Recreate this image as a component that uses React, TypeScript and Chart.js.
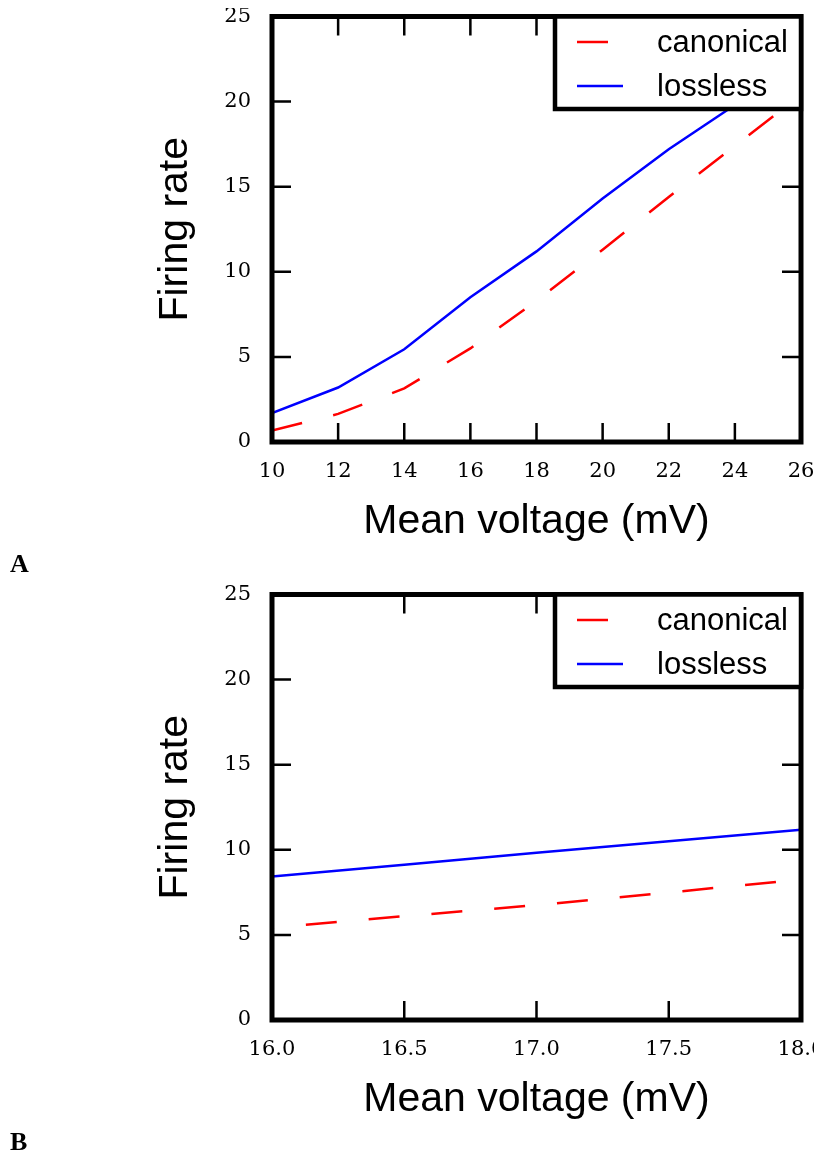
import React, { useEffect, useRef } from "react";
import { Chart, registerables } from "chart.js";

Chart.register(...registerables);

// ---------- data ----------
const seriesNames = ["canonical", "lossless"];
const seriesColors = ["#ff0000", "#0000ff"];

const voltageA = [10, 12, 14, 16, 18, 20, 22, 24, 26];
const canonicalA = [0.68, 1.65, 3.15, 5.5, 8.3, 11.3, 14.4, 17.4, 20.4];
const losslessA = [1.7, 3.2, 5.45, 8.5, 11.2, 14.3, 17.2, 19.8, 22.3];

const voltageB = [16, 16.5, 17, 17.5, 18];
const canonicalB = [5.43, 6.1, 6.75, 7.49, 8.26];
const losslessB = [8.43, 9.12, 9.82, 10.5, 11.18];

const yTicks = [0, 5, 10, 15, 20, 25];
const yTickLabels = ["0", "5", "10", "15", "20", "25"];
const xTicksA = [10, 12, 14, 16, 18, 20, 22, 24, 26];
const xTickLabelsA = ["10", "12", "14", "16", "18", "20", "22", "24", "26"];
const xTicksB = [16, 16.5, 17, 17.5, 18];
const xTickLabelsB = ["16.0", "16.5", "17.0", "17.5", "18.0"];

const xTitle = "Mean voltage (mV)";
const yTitle = "Firing rate";
const panelLabels = ["A", "B"];

// ---------- geometry ----------
const CW = 840;
const CH = 568;
const SHIFT = 8; // canvas starts 8px above the wrapper so nothing is clipped at the top
const AREA_LEFT = 264;
const AREA_RIGHT = 793;
const AREA_TOP = 8.5 + SHIFT;
const AREA_BOTTOM = 434 + SHIFT;
const PANEL_OFFSET = 578;

const framePlugin = {
  id: "framePlugin",
  afterDraw(chart: any, _args: any, opts: any) {
    const ctx = chart.ctx;
    const { left, right, top, bottom } = chart.chartArea;
    const xs = chart.scales.x;
    const ys = chart.scales.y;
    const tickLen = 19;
    ctx.save();
    ctx.strokeStyle = "#000";
    ctx.lineWidth = 2.5;
    ctx.beginPath();
    (opts.xTicks as number[]).forEach((v, i, arr) => {
      if (i === 0 || i === arr.length - 1) return;
      const px = xs.getPixelForValue(v);
      ctx.moveTo(px, bottom);
      ctx.lineTo(px, bottom - tickLen);
      ctx.moveTo(px, top);
      ctx.lineTo(px, top + tickLen);
    });
    (opts.yTicks as number[]).forEach((v, i, arr) => {
      if (i === 0 || i === arr.length - 1) return;
      const py = ys.getPixelForValue(v);
      ctx.moveTo(left, py);
      ctx.lineTo(left + tickLen, py);
      ctx.moveTo(right, py);
      ctx.lineTo(right - tickLen, py);
    });
    ctx.stroke();

    // frame
    ctx.lineWidth = 5;
    ctx.strokeRect(left, top, right - left, bottom - top);

    // legend
    const lx0 = 547;
    const lx1 = right;
    const ly0 = top;
    const ly1 = top + 92.5;
    ctx.fillStyle = "#fff";
    ctx.fillRect(lx0, ly0, lx1 - lx0, ly1 - ly0);
    ctx.lineWidth = 4.5;
    ctx.strokeStyle = "#000";
    ctx.strokeRect(lx0, ly0, lx1 - lx0, ly1 - ly0);
    const rows = [top + 25.5, top + 69.5];
    chart.data.datasets.forEach((ds: any, i: number) => {
      const y = rows[i];
      ctx.save();
      ctx.strokeStyle = ds.borderColor;
      ctx.lineWidth = 2.5;
      ctx.setLineDash(ds.borderDash || []);
      ctx.beginPath();
      ctx.moveTo(569, y);
      ctx.lineTo(615, y);
      ctx.stroke();
      ctx.restore();
      ctx.fillStyle = "#000";
      ctx.font = '31px "Liberation Sans", Arial, sans-serif';
      ctx.textBaseline = "middle";
      ctx.textAlign = "left";
      ctx.fillText(ds.label, 649, y + 1);
    });
    ctx.restore();
  },
};

function makeConfig(
  xs: number[],
  canon: number[],
  lossless: number[],
  xTicks: number[],
  xLabels: string[],
  dashOffset: number
): any {
  return {
    type: "line",
    data: {
      datasets: [
        {
          label: seriesNames[0],
          data: xs.map((x, i) => ({ x, y: canon[i] })),
          borderColor: seriesColors[0],
          borderWidth: 2.5,
          borderDash: [31, 32],
          borderDashOffset: dashOffset,
          borderCapStyle: "butt",
          pointRadius: 0,
          tension: 0,
          fill: false,
        },
        {
          label: seriesNames[1],
          data: xs.map((x, i) => ({ x, y: lossless[i] })),
          borderColor: seriesColors[1],
          borderWidth: 2.5,
          pointRadius: 0,
          tension: 0,
          fill: false,
        },
      ],
    },
    options: {
      responsive: false,
      animation: false,
      devicePixelRatio: 1,
      layout: {
        padding: { left: 0, top: AREA_TOP, right: CW - AREA_RIGHT, bottom: 0 },
      },
      plugins: {
        legend: { display: false },
        tooltip: { enabled: false },
        framePlugin: { xTicks, yTicks },
      },
      scales: {
        x: {
          type: "linear",
          min: xTicks[0],
          max: xTicks[xTicks.length - 1],
          grid: { display: false, drawTicks: false },
          border: { display: false },
          afterBuildTicks: (s: any) => {
            s.ticks = xTicks.map((v) => ({ value: v }));
          },
          afterFit: (s: any) => {
            s.height = CH - AREA_BOTTOM;
            s.paddingLeft = 0;
            s.paddingRight = 0;
          },
          ticks: {
            autoSkip: false,
            maxRotation: 0,
            minRotation: 0,
            padding: 16.5,
            color: "#000",
            font: { family: '"DejaVu Serif", serif', size: 21 },
            callback: (_v: any, i: number) => xLabels[i],
          },
          title: {
            display: true,
            text: xTitle,
            color: "#000",
            font: { family: '"Liberation Sans", Arial, sans-serif', size: 41 },
            padding: { top: 0, bottom: 22 },
          },
        },
        y: {
          type: "linear",
          min: yTicks[0],
          max: yTicks[yTicks.length - 1],
          grid: { display: false, drawTicks: false },
          border: { display: false },
          afterBuildTicks: (s: any) => {
            s.ticks = yTicks.map((v) => ({ value: v }));
          },
          afterFit: (s: any) => {
            s.width = AREA_LEFT;
            s.paddingTop = 0;
            s.paddingBottom = 0;
          },
          ticks: {
            autoSkip: false,
            padding: 21,
            color: "#000",
            font: { family: '"DejaVu Serif", serif', size: 21 },
            callback: (_v: any, i: number) => yTickLabels[i],
          },
          title: {
            display: true,
            text: yTitle,
            color: "#000",
            font: { family: '"Liberation Sans", Arial, sans-serif', size: 41 },
            padding: { top: 143, bottom: 0 },
          },
        },
      },
    },
    plugins: [framePlugin],
  };
}

function Panel(props: { config: any; top: number; label: string }) {
  const ref = useRef<HTMLCanvasElement | null>(null);
  useEffect(() => {
    if (!ref.current) return;
    const chart = new Chart(ref.current, props.config);
    return () => chart.destroy();
  }, [props.config]);
  return (
    <>
      <canvas
        ref={ref}
        width={CW}
        height={CH}
        style={{ position: "absolute", left: 0, top: props.top - SHIFT, width: CW, height: CH }}
      />
      <div
        style={{
          position: "absolute",
          left: 2,
          top: props.top + 543,
          fontFamily: '"Liberation Serif", serif',
          fontWeight: "bold",
          fontSize: 26,
          lineHeight: 1,
          color: "#000",
        }}
      >
        {props.label}
      </div>
    </>
  );
}

const configA = makeConfig(voltageA, canonicalA, losslessA, xTicksA, xTickLabelsA, 0);
const configB = makeConfig(voltageB, canonicalB, losslessB, xTicksB, xTickLabelsB, 29);

export default function App() {
  return (
    <div
      style={{
        position: "relative",
        width: 814,
        height: 1147,
        overflowX: "clip",
        overflowY: "visible",
      }}
    >
      <Panel config={configA} top={0} label={panelLabels[0]} />
      <Panel config={configB} top={PANEL_OFFSET} label={panelLabels[1]} />
    </div>
  );
}
